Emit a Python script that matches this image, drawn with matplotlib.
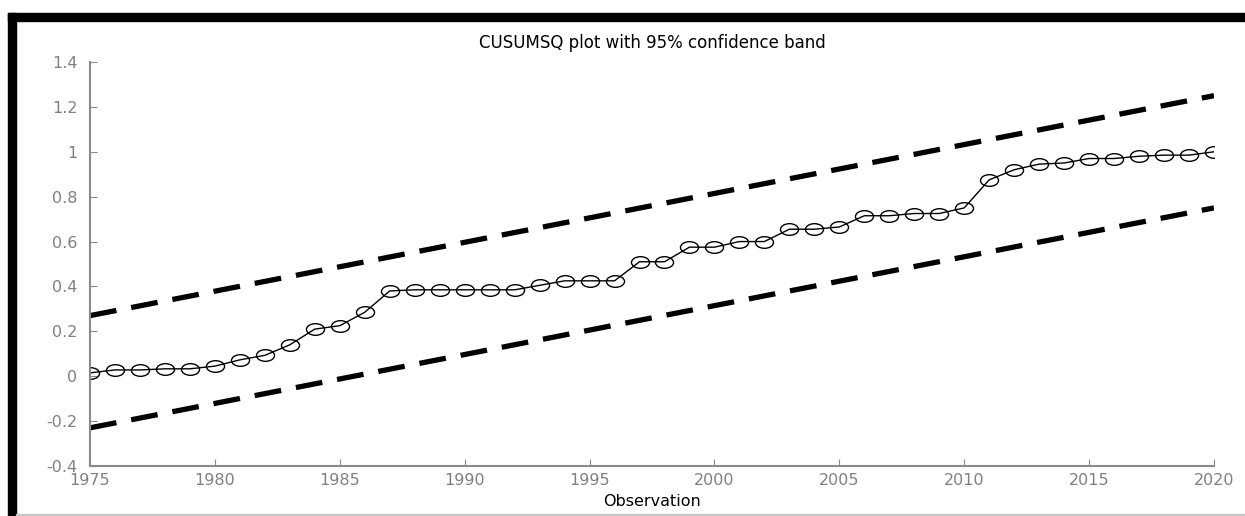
import numpy as np
import matplotlib
matplotlib.use('Agg')
import matplotlib.pyplot as plt
from matplotlib.path import Path
from matplotlib.transforms import Affine2D
from matplotlib.patches import Rectangle

# data
years = list(range(1975, 2021))
cusumsq = [0.015, 0.028, 0.028, 0.033, 0.033, 0.045, 0.073, 0.093, 0.14, 0.21,
           0.225, 0.285, 0.38, 0.385, 0.385, 0.385, 0.385, 0.385, 0.405, 0.425,
           0.425, 0.425, 0.51, 0.51, 0.575, 0.575, 0.6, 0.6, 0.655, 0.655,
           0.665, 0.715, 0.715, 0.725, 0.725, 0.75, 0.875, 0.92, 0.945, 0.95,
           0.97, 0.97, 0.98, 0.985, 0.985, 1.0]
band_years = [1975, 2020]
upper_band = [0.27, 1.25]
lower_band = [-0.23, 0.75]
yticks = [-0.4, -0.2, 0, 0.2, 0.4, 0.6, 0.8, 1, 1.2, 1.4]
ytick_labels = ['-0.4', '-0.2', '0', '0.2', '0.4', '0.6', '0.8', '1', '1.2', '1.4']
xticks = [1975, 1980, 1985, 1990, 1995, 2000, 2005, 2010, 2015, 2020]

fig = plt.figure(figsize=(12.45, 5.16), dpi=100)
ax = fig.add_axes([90 / 1245, 50 / 516, (1214 - 90) / 1245, (466 - 62) / 516])

# ellipse marker (wider than tall)
ellipse = Path.unit_circle().transformed(Affine2D().scale(1.55, 1.0))

ax.plot(band_years, upper_band, color='black', lw=3.8, dashes=(5.1, 2.85), solid_capstyle='butt')
ax.plot(band_years, lower_band, color='black', lw=3.8, dashes=(5.1, 2.85), solid_capstyle='butt')
ax.plot(years, cusumsq, color='black', lw=1, marker=ellipse, markersize=13,
        markerfacecolor='none', markeredgecolor='black', markeredgewidth=1)

ax.set_xlim(1975, 2020)
ax.set_ylim(-0.4, 1.4)
ax.set_xticks(xticks)
ax.set_xticklabels([str(x) for x in xticks])
ax.set_yticks(yticks)
ax.set_yticklabels(ytick_labels)

for side in ['top', 'right']:
    ax.spines[side].set_visible(False)
for side in ['left', 'bottom']:
    ax.spines[side].set_color('#8a8a8a')
    ax.spines[side].set_linewidth(1.5)
ax.tick_params(axis='both', direction='in', length=5, color='#8a8a8a',
               labelcolor='#808080', labelsize=11.5)
ax.tick_params(axis='y', pad=9)
ax.tick_params(axis='x', pad=5)

ax.set_title('CUSUMSQ plot with 95% confidence band', fontsize=12, pad=10)
ax.set_xlabel('Observation', fontsize=11.5, labelpad=4)

# screenshot frame
fig.patches.append(Rectangle((8 / 1245, 0), 8 / 1245, (516 - 13) / 516,
                             transform=fig.transFigure, color='black', zorder=0))
fig.patches.append(Rectangle((8 / 1245, (516 - 21) / 516), 1 - 8 / 1245, 8 / 516,
                             transform=fig.transFigure, color='black', zorder=0))
fig.patches.append(Rectangle((16 / 1245, 0), 1 - 16 / 1245, 2 / 516,
                             transform=fig.transFigure, color='#c8c8c8', zorder=0))

plt.savefig('out.png', dpi=100)
